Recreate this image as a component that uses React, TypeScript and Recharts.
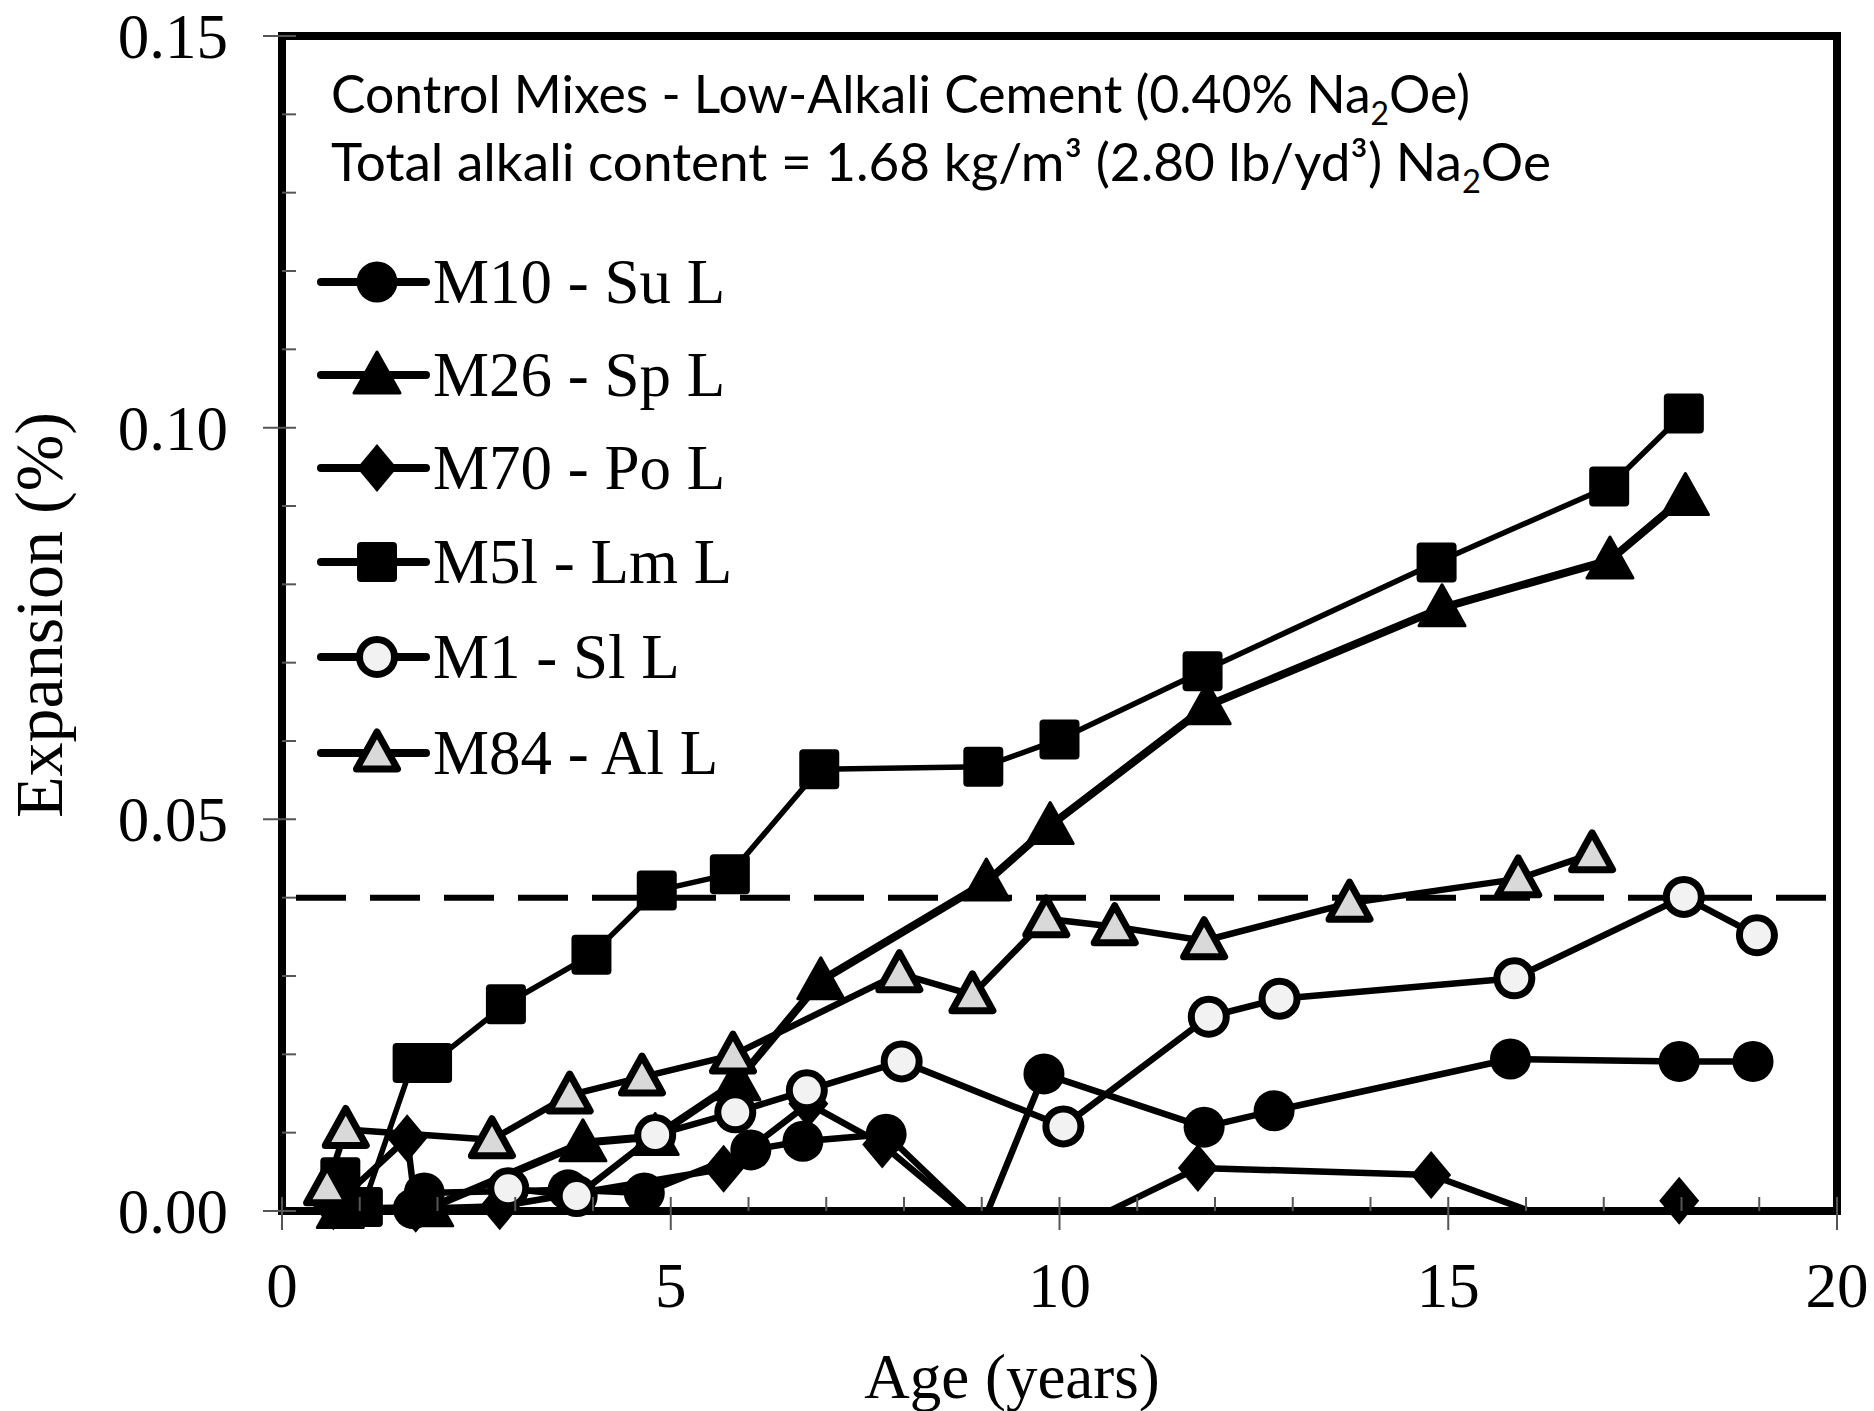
import React from 'react';
import { ComposedChart, Line, Scatter, XAxis, YAxis, ReferenceLine, ReferenceArea, Legend } from 'recharts';

// ---- data (age in years, expansion in %) ----
const AGE_M10 = [1.69, 1.83, 3.68, 4.66, 6.03, 6.7, 7.77, 9.0, 9.8, 11.86, 12.76, 15.8, 17.97, 18.92];
const EXP_M10 = [0.0003, 0.0023, 0.0027, 0.0023, 0.0078, 0.0089, 0.0098, -0.0019, 0.0175, 0.0107, 0.0128, 0.0194, 0.0191, 0.0191];

const AGE_M26 = [0.75, 1.9, 3.87, 4.8, 5.85, 6.93, 9.06, 9.88, 11.9, 14.92, 17.08, 18.05];
const EXP_M26 = [0.0002, 0.0004, 0.0087, 0.0095, 0.0165, 0.0294, 0.042, 0.0492, 0.0645, 0.077, 0.0831, 0.0912];

const AGE_M70 = [0.66, 1.61, 1.72, 2.8, 5.68, 6.77, 7.72, 8.9, 9.8, 10.6, 11.78, 14.78, 16.9, 17.5, 17.97];
const EXP_M70: (number | null)[] = [0.0006, 0.0093, 0.0003, 0.0006, 0.0054, 0.0137, 0.0085, -0.0013, -0.003, -0.0002, 0.0055, 0.0046, -0.0031, null, 0.0013];

const AGE_M51 = [0.75, 1.04, 1.68, 1.93, 2.88, 3.98, 4.82, 5.76, 6.91, 9.02, 10.0, 11.84, 14.85, 17.07, 18.03];
const EXP_M51 = [0.0043, 0.0005, 0.0189, 0.0189, 0.0264, 0.0327, 0.0409, 0.043, 0.0564, 0.0567, 0.0602, 0.0689, 0.0828, 0.0925, 0.1018];

const AGE_M1 = [2.91, 3.79, 4.8, 5.83, 6.75, 7.97, 10.05, 11.92, 12.83, 15.85, 18.03, 18.97];
const EXP_M1 = [0.0029, 0.0019, 0.0097, 0.0126, 0.0154, 0.0191, 0.0108, 0.0248, 0.0271, 0.0297, 0.0401, 0.0352];

const AGE_M84 = [0.58, 0.82, 2.7, 3.7, 4.63, 5.8, 7.94, 8.88, 9.83, 10.71, 11.86, 13.73, 15.9, 16.85];
const EXP_M84 = [0.0031, 0.0104, 0.0091, 0.0148, 0.0171, 0.0199, 0.0303, 0.0276, 0.0373, 0.0363, 0.0345, 0.0393, 0.0424, 0.0456];

const SERIES_NAMES = ['M10 - Su L', 'M26 - Sp L', 'M70 - Po L', 'M5l - Lm L', 'M1 - Sl L', 'M84 - Al L'];
const X_TICKS = Array.from({ length: 21 }, (_, i) => i);
const Y_TICKS = Array.from({ length: 16 }, (_, i) => Math.round(i * 100) / 10000);
const LIMIT = 0.04;

type Pt = { x: number; y: number | null };
const zip = (a: number[], b: (number | null)[]): Pt[] => a.map((x, i) => ({ x, y: b[i] }));

const SERIES = [
  { name: SERIES_NAMES[0], data: zip(AGE_M10, EXP_M10), kind: 'circle', lw: 6.5 },
  { name: SERIES_NAMES[1], data: zip(AGE_M26, EXP_M26), kind: 'tri', lw: 8 },
  { name: SERIES_NAMES[2], data: zip(AGE_M70, EXP_M70), kind: 'diamond', lw: 6.5 },
  { name: SERIES_NAMES[3], data: zip(AGE_M51, EXP_M51), kind: 'square', lw: 5.5 },
  { name: SERIES_NAMES[4], data: zip(AGE_M1, EXP_M1), kind: 'ocircle', lw: 6.5 },
  { name: SERIES_NAMES[5], data: zip(AGE_M84, EXP_M84), kind: 'gtri', lw: 6.5 },
];

const SERIF = '"Liberation Serif", "Times New Roman", serif';
const SANS = 'Lato, "Open Sans", sans-serif';

function Marker({ kind, cx, cy }: { kind: string; cx: number; cy: number }) {
  switch (kind) {
    case 'circle':
      return <circle cx={cx} cy={cy} r={20.5} fill="#000" />;
    case 'ocircle':
      return <circle cx={cx} cy={cy} r={17.5} fill="#f2f2f2" stroke="#000" strokeWidth={7} />;
    case 'square':
      return <rect x={cx - 20} y={cy - 20} width={40} height={40} rx={4} fill="#000" />;
    case 'tri':
      return (
        <polygon
          points={`${cx},${cy - 23} ${cx + 23},${cy + 18} ${cx - 23},${cy + 18}`}
          fill="#000" stroke="#000" strokeWidth={3} strokeLinejoin="round"
        />
      );
    case 'gtri':
      return (
        <polygon
          points={`${cx},${cy - 21} ${cx + 20.5},${cy + 16} ${cx - 20.5},${cy + 16}`}
          fill="#d9d9d9" stroke="#000" strokeWidth={7} strokeLinejoin="round"
        />
      );
    case 'diamond':
      return <polygon points={`${cx},${cy - 24} ${cx + 20},${cy} ${cx},${cy + 24} ${cx - 20},${cy}`} fill="#000" />;
    default:
      return null;
  }
}

const isMajorY = (v: number) => Math.abs(v / 0.05 - Math.round(v / 0.05)) < 1e-6;

function YTick(props: any) {
  const { x, y, payload } = props;
  const v = payload.value as number;
  const major = isMajorY(v);
  return (
    <g>
      <line x1={major ? x - 19 : x} x2={x + 14} y1={y} y2={y} stroke="#555" strokeWidth={2} />
      {major && (
        <text x={x - 54} y={y + 22} textAnchor="end" fontFamily={SERIF} fontSize={63} fill="#000">
          {v.toFixed(2)}
        </text>
      )}
    </g>
  );
}

function XTick(props: any) {
  const { x, y, payload } = props;
  const v = payload.value as number;
  const major = v % 5 === 0;
  return (
    <g>
      <line x1={x} x2={x} y1={y - 14} y2={major ? y + 19 : y} stroke="#555" strokeWidth={2} />
      {major && (
        <text x={x} y={y + 96} textAnchor="middle" fontFamily={SERIF} fontSize={63} fill="#000">
          {v}
        </text>
      )}
    </g>
  );
}

const LEG_Y = [57, 150, 243, 337, 432, 528];

function LegendBox() {
  return (
    <svg width={560} height={580} style={{ overflow: 'visible' }}>
      {SERIES.map((s, i) => (
        <g key={s.name}>
          <line x1={21} x2={126} y1={LEG_Y[i]} y2={LEG_Y[i]} stroke="#000" strokeWidth={8} strokeLinecap="round" />
          <Marker kind={s.kind} cx={77} cy={LEG_Y[i]} />
          <text x={133} y={LEG_Y[i] + 21} fontFamily={SERIF} fontSize={63} fill="#000">
            {s.name}
          </text>
        </g>
      ))}
    </svg>
  );
}

export default function App() {
  return (
    <div style={{ position: 'absolute', left: 0, top: 0, width: 1874, height: 1411, background: '#fff' }}>
      <ComposedChart width={1874} height={1411} margin={{ top: 36, right: 37, bottom: 0, left: 0 }}>
        <XAxis
          type="number" dataKey="x" domain={[0, 20]} ticks={X_TICKS} interval={0}
          height={200} tickSize={0} tickMargin={0} axisLine={false} tickLine={false} tick={<XTick />}
        />
        <YAxis
          yAxisId="c" type="number" dataKey="y" domain={[0, 0.15]} ticks={Y_TICKS} interval={0} tickCount={4}
          allowDataOverflow width={282} tickSize={0} tickMargin={0} axisLine={false} tickLine={false} tick={<YTick />}
        />
        <YAxis yAxisId="m" type="number" dataKey="y" domain={[0, 0.15]} tickCount={4} hide />
        <ReferenceLine yAxisId="c" y={LIMIT} stroke="#000" strokeWidth={6} strokeDasharray="50 24" strokeDashoffset={-14} />
        {SERIES.map((s) => (
          <Line
            key={'l' + s.name} yAxisId="c" data={s.data} dataKey="y" name={s.name}
            stroke="#000" strokeWidth={s.lw} dot={false} activeDot={false}
            isAnimationActive={false} legendType="none" strokeLinejoin="round"
          />
        ))}
        {SERIES.map((s) => (
          <Scatter
            key={'s' + s.name} yAxisId="m" data={s.data.filter((p) => p.y !== null && (p.y as number) >= 0)}
            dataKey="y" name={s.name} isAnimationActive={false} legendType="none"
            shape={(p: any) => <Marker kind={s.kind} cx={p.cx} cy={p.cy} />}
          />
        ))}
        <ReferenceArea yAxisId="c" x1={0} x2={20} y1={0} y2={0.15} fill="none" fillOpacity={0} stroke="#000" strokeWidth={8} ifOverflow="visible" />
        <Legend
          layout="vertical" align="center" verticalAlign="middle"
          wrapperStyle={{ position: 'absolute', left: 300, top: 225, width: 560, height: 580 }}
          content={() => <LegendBox />}
        />
      </ComposedChart>
      <svg width={1874} height={1411} style={{ position: 'absolute', left: 0, top: 0, pointerEvents: 'none' }}>
        <text x={331} y={113} fontFamily={SANS} fontSize={52} fill="#000" textLength={1139} lengthAdjust="spacingAndGlyphs">
          Control Mixes - Low-Alkali Cement (0.40% Na<tspan dy={12} fontSize={32}>2</tspan><tspan dy={-12}>Oe)</tspan>
        </text>
        <text x={331} y={181} fontFamily={SANS} fontSize={52} fill="#000" textLength={1220} lengthAdjust="spacingAndGlyphs">
          Total alkali content = 1.68 kg/m³ (2.80 lb/yd³)  Na<tspan dy={12} fontSize={32}>2</tspan><tspan dy={-12}>Oe</tspan>
        </text>
        <text x={1012} y={1398} textAnchor="middle" fontFamily={SERIF} fontSize={63} fill="#000">
          Age (years)
        </text>
        <text
          x={0} y={0} transform="translate(62,615) rotate(-90)" textAnchor="middle"
          fontFamily={SERIF} fontSize={68} fill="#000"
        >
          Expansion (%)
        </text>
      </svg>
    </div>
  );
}
